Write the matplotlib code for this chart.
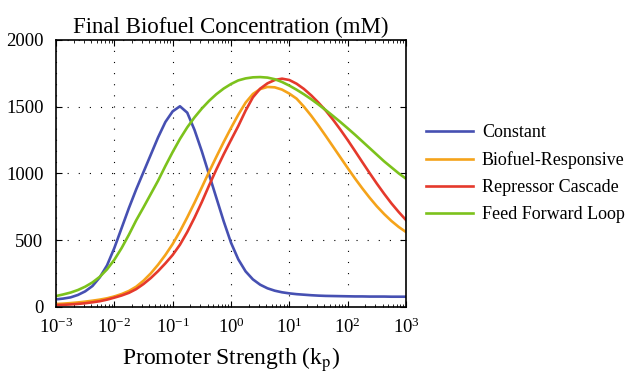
import numpy as np
import matplotlib
matplotlib.use("Agg")
import matplotlib.pyplot as plt
from matplotlib.ticker import LogLocator, NullFormatter

plt.rcParams['font.family'] = ['Liberation Serif', 'DejaVu Serif']
plt.rcParams['mathtext.fontset'] = 'stix'

# promoter strength, log10 grid (step 1/8 decade)
log_kp = np.arange(-3, 3.0001, 0.125)

constant = [55, 61, 70, 88, 115, 155, 220, 310, 440, 590, 740, 880,
            1010, 1140, 1270, 1385, 1465, 1503, 1455, 1325, 1165, 990,
            815, 640, 480, 355, 265, 205, 165, 138, 120, 108, 100, 94,
            90, 86, 83, 81, 80, 79, 78, 77, 77, 76, 76, 76, 75, 75, 75]

biofuel_responsive = [20, 23, 27, 32, 38, 45, 53, 63, 77, 95, 118, 150,
                      195, 250, 315, 388, 470, 565, 670, 780, 895, 1012,
                      1125, 1235, 1340, 1440, 1530, 1595, 1632, 1648, 1645,
                      1628, 1598, 1560, 1500, 1432, 1358, 1280, 1200, 1120,
                      1040, 962, 888, 818, 753, 695, 643, 598, 560]

repressor_cascade = [12, 14, 17, 21, 26, 33, 41, 53, 68, 84, 104, 132,
                     170, 215, 267, 325, 388, 465, 560, 668, 785, 910,
                     1030, 1143, 1250, 1355, 1470, 1570, 1635, 1675, 1700,
                     1710, 1700, 1672, 1633, 1585, 1530, 1470, 1402, 1328,
                     1250, 1168, 1085, 1003, 923, 847, 775, 710, 650]

feed_forward = [80, 92, 106, 125, 150, 182, 224, 280, 352, 440, 540, 648,
                745, 845, 945, 1055, 1160, 1258, 1345, 1420, 1486, 1544,
                1594, 1636, 1670, 1697, 1712, 1720, 1722, 1718, 1706, 1685,
                1658, 1627, 1593, 1556, 1516, 1474, 1430, 1385, 1338, 1290,
                1240, 1190, 1140, 1090, 1045, 1000, 960]

labels = ['Constant', 'Biofuel-Responsive', 'Repressor Cascade', 'Feed Forward Loop']
colors = ['#4650b2', '#f5a31a', '#e5392c', '#7cc21c']
series = [constant, biofuel_responsive, repressor_cascade, feed_forward]

kp = 10.0 ** log_kp

fig = plt.figure(figsize=(6.32, 3.78), dpi=100)
ax = fig.add_axes([56/632, 1 - 306.7/378, 350/632, 266.7/378])

for y, c, lab in zip(series, colors, labels):
    ax.plot(kp, y, color=c, lw=1.9, label=lab)

ax.set_xscale('log')
ax.set_xlim(1e-3, 1e3)
ax.set_ylim(0, 2000)
ax.set_yticks([0, 500, 1000, 1500, 2000])
ax.set_xticks(10.0 ** np.arange(-3, 4))
ax.xaxis.set_minor_locator(LogLocator(base=10, subs=np.arange(2, 10), numticks=20))
ax.xaxis.set_minor_formatter(NullFormatter())

ax.grid(True, which='major', color='black', linestyle=(0, (1, 9)), lw=0.8)
ax.tick_params(which='both', direction='in', top=True, right=True, labelsize=13.5)
ax.tick_params(which='major', length=4, width=0.8)
ax.tick_params(which='minor', length=2, width=0.6)
ax.tick_params(axis='x', pad=8)
ax.tick_params(axis='y', pad=9)
for s in ax.spines.values():
    s.set_linewidth(1.2)

ax.set_title('Final Biofuel Concentration (mM)', fontsize=16.5, pad=5)
ax.set_xlabel(r'Promoter Strength (k$_\mathrm{p}$)', fontsize=17, labelpad=6)

fig.legend(loc='center left', bbox_to_anchor=(426/632, 1 - 173.5/378),
           frameon=False, fontsize=13, handlelength=2.6, handletextpad=0.5,
           labelspacing=0.55, borderpad=0, borderaxespad=0)

fig.savefig('out.png', dpi=100)
